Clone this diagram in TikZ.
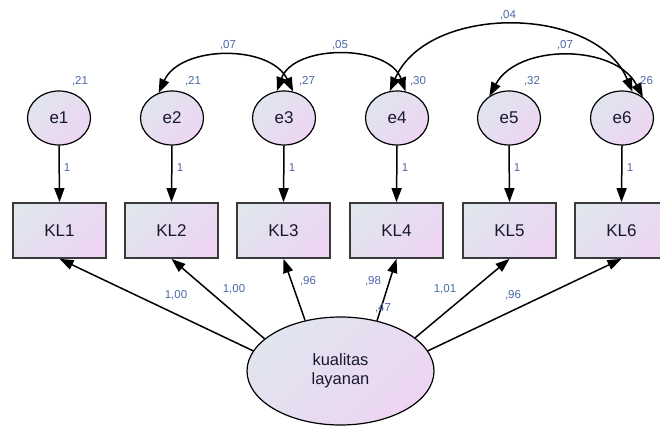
\documentclass[tikz,border=0pt]{standalone}
\usepackage{fontspec}
\setmainfont{Liberation Sans}
\usetikzlibrary{arrows.meta,shapes.geometric}
\definecolor{fillA}{HTML}{E0E5EE}
\definecolor{fillB}{HTML}{EDD5F2}
\definecolor{edgec}{HTML}{3A3A3A}
\definecolor{estc}{HTML}{4A68A6}
\definecolor{txtc}{HTML}{181830}
\begin{document}
\begin{tikzpicture}[x=1pt,y=1pt,
  shadefill/.style={top color=fillA, bottom color=fillB, shading angle=45},
  errvar/.style={ellipse, draw=black, line width=1.2pt, shadefill,
    minimum width=63pt, minimum height=54pt, inner sep=0pt,
    font=\fontsize{17}{19}\selectfont, text=txtc},
  obsvar/.style={rectangle, draw=edgec, line width=1.7pt, shadefill,
    minimum width=93pt, minimum height=55pt, inner sep=0pt,
    font=\fontsize{17}{19}\selectfont, text=txtc},
  latvar/.style={ellipse, draw=black, line width=1.2pt, shadefill,
    minimum width=187pt, minimum height=108pt, inner sep=0pt, align=center,
    font=\fontsize{16.5}{19}\selectfont, text=txtc},
  regpath/.style={-{Triangle[length=14pt,width=10pt]}, line width=1.5pt},
  covpath/.style={{Triangle[length=14pt,width=10pt]}-{Triangle[length=14pt,width=10pt]}, line width=1.5pt},
  estlab/.style={font=\fontsize{11.5}{13}\selectfont, text=estc, inner sep=0pt}
]
\useasboundingbox (0,0) rectangle (660,426);

% error terms
\node[errvar] (e1) at (59,308) {e1};
\node[errvar] (e2) at (172,308) {e2};
\node[errvar] (e3) at (284,308) {e3};
\node[errvar] (e4) at (397,308) {e4};
\node[errvar] (e5) at (509,308) {e5};
\node[errvar] (e6) at (622,308) {e6};

% indicators
\node[obsvar] (kl1) at (59.5,195.5) {KL1};
\node[obsvar] (kl2) at (171.5,195.5) {KL2};
\node[obsvar] (kl3) at (283.5,195.5) {KL3};
\node[obsvar] (kl4) at (396.5,195.5) {KL4};
\node[obsvar] (kl5) at (509.5,195.5) {KL5};
\node[obsvar] (kl6) at (621.5,195.5) {KL6};

% latent construct
\node[latvar] (lat) at (340.5,55) {kualitas\\layanan};

% error paths
\foreach \i in {1,...,6} \draw[regpath] (e\i.south) -- (kl\i.north);
\node[estlab] (w1) at (67,258) {1};
\node[estlab] (w2) at (180,258) {1};
\node[estlab] (w3) at (292,258) {1};
\node[estlab] (w4) at (405,258) {1};
\node[estlab] (w5) at (517,258) {1};
\node[estlab] (w6) at (630,258) {1};

% loadings
\draw[regpath] (lat.167) -- (kl1.south);
\draw[regpath] (lat.157) -- (kl2.south);
\draw[regpath] (lat.125) -- (kl3.south);
\draw[regpath] (lat.54) -- (kl4.south);
\draw[regpath] (lat.24) -- (kl5.south);
\draw[regpath] (lat.13.5) -- (kl6.south);
\node[estlab] (l1) at (176,131) {1,00};
\node[estlab] (l2) at (234,137) {1,00};
\node[estlab] (l3) at (308,145) {,96};
\node[estlab] (l4) at (373,145) {,98};
\node[estlab] (l5) at (445,137) {1,01};
\node[estlab] (l6) at (513,131) {,96};
\node[estlab] (r2) at (383,118) {,47};

% covariances
\draw[covpath] (e2.118) to[bend left=65] (e3.71);
\draw[covpath] (e3.105) to[bend left=70] (e4.72);
\draw[covpath] (e4.105) to[bend left=67] (e6.68);
\draw[covpath] (e5.132) to[bend left=62] (e6.45);
\node[estlab] (c23) at (228,381) {,07};
\node[estlab] (c34) at (340,381) {,05};
\node[estlab] (c46) at (508,411) {,04};
\node[estlab] (c56) at (565,381) {,07};

% variances
\node[estlab] (v1) at (80,345) {,21};
\node[estlab] (v2) at (193,345) {,21};
\node[estlab] (v3) at (307,345) {,27};
\node[estlab] (v4) at (418,345) {,30};
\node[estlab] (v5) at (532,345) {,32};
\node[estlab] (v6) at (645,345) {,26};
\end{tikzpicture}
\end{document}
